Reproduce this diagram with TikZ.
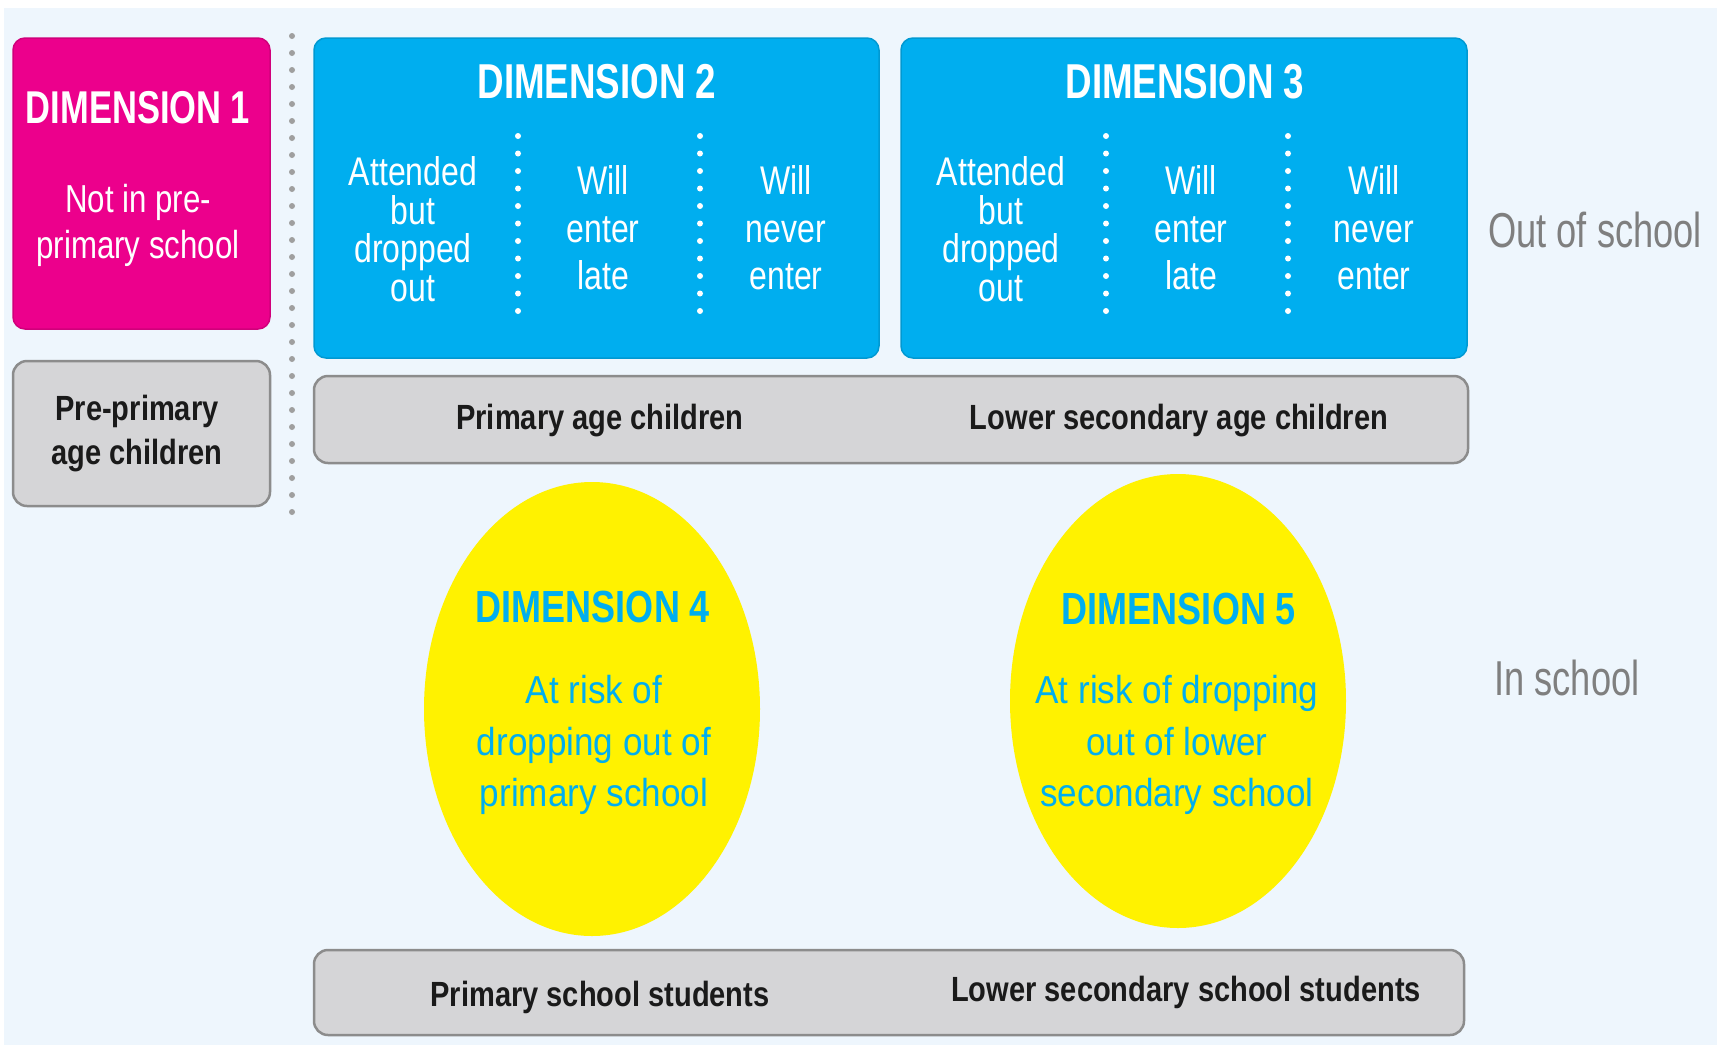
\documentclass[tikz,border=0pt]{standalone}
\usepackage{fontspec}
\setmainfont{Liberation Sans}
\newfontfamily\dimfont{Liberation Sans}[FakeStretch=0.75]
\newfontfamily\colfont{Liberation Sans}[FakeStretch=0.8]
\newfontfamily\barfont{Liberation Sans}[FakeStretch=0.83]
\newfontfamily\ovalfont{Liberation Sans}[FakeStretch=0.9]
\newfontfamily\sidefont{Liberation Sans}[FakeStretch=0.74]
\usepackage{tikz}
\usetikzlibrary{positioning}
\usetikzlibrary{shapes}
\definecolor{dimpink}{HTML}{EC008C}
\definecolor{dimblue}{HTML}{00AEEF}
\definecolor{dimyellow}{HTML}{FFF200}
\definecolor{bargrey}{HTML}{D5D5D7}
\definecolor{barline}{HTML}{8C8C8C}
\definecolor{paleblue}{HTML}{EEF6FD}
\definecolor{sidegrey}{HTML}{7F7F7F}
\definecolor{inkblack}{HTML}{1A1A1A}
\newcommand{\fsz}[2]{\fontsize{#1}{#2}\selectfont}
\tikzset{dim box/.style={rectangle,rounded corners=12pt,draw=#1!88!black,fill=#1,line width=1.5pt,inner sep=0pt},
  grey box/.style={rectangle,rounded corners=14pt,draw=barline,fill=bargrey,line width=2.5pt,inner sep=0pt},
  risk oval/.style={ellipse,fill=dimyellow,inner sep=0pt,minimum width=336pt,minimum height=454pt},
  title text/.style={font=\dimfont\bfseries\fsz{#1}{#1},text=white,inner sep=0pt},
  col text/.style={font=\colfont\fsz{40}{#1},text=white,align=center,inner sep=0pt},
  bar text/.style={font=\barfont\bfseries\fsz{35}{#1},text=inkblack,align=center,inner sep=0pt},
  bar text/.default=41,
  oval title/.style={font=\colfont\bfseries\fsz{45}{45},text=dimblue,inner sep=0pt},
  oval text/.style={font=\ovalfont\fsz{39}{51.5},text=dimblue,align=center,inner sep=0pt},
  side text/.style={font=\sidefont\fsz{49}{49},text=sidegrey,inner sep=0pt},
  grey dots/.style={draw=gray!75,line width=6pt,line cap=round,dash pattern=on 0pt off 17pt},
  white dots/.style={draw=white,line width=6pt,line cap=round,dash pattern=on 0pt off 17.5pt},}
\begin{document}
\begin{tikzpicture}[x=1pt,y=-1pt]
    \useasboundingbox (0,0) rectangle (1717,1045);
    \fill[paleblue] (4,8) rectangle (1717,1045);

    % boxes
    \node[dim box=dimpink, minimum width=257pt, minimum height=291pt] (dim1) at (141.5,183.5) {};
    \node[grey box, minimum width=257pt, minimum height=145pt] (prebox) at (141.5,433.5) {};
    \node[dim box=dimblue, minimum width=565pt, minimum height=320pt] (dim2) at (596.5,198) {};
    \node[dim box=dimblue, minimum width=566pt, minimum height=320pt] (dim3) at (1184,198) {};
    \node[grey box, minimum width=1154pt, minimum height=87pt] (agebar) at (891,419.5) {};
    \node[risk oval] (dim4) at (592,709) {};
    \node[risk oval] (dim5) at (1178,701) {};
    \node[grey box, minimum width=1150pt, minimum height=85pt] (schoolbar) at (889,992.5) {};

    % dotted separators
    \draw[grey dots] (292,36) -- (292,522);
    \foreach \x in {518,700,1106,1288}
        \draw[white dots] (\x,136) -- (\x,322);

    % dimension 1
    \node[title text=46] (t1) at (138,108) {DIMENSION 1};
    \node[col text=46, font=\colfont\fsz{39}{46}] (notpre) at (138,225) {Not in pre-\\primary school};
    \node[bar text=44] (preage) at (137,434) {Pre-primary\\age children};

    % dimension 2
    \node[title text=49] (t2) at (597,82) {DIMENSION 2};
    \node[col text=38.5] (drop2) at (413,229) {Attended\\but\\dropped\\out};
    \node[col text=47.5] (late2) at (603,228) {Will\\enter\\late};
    \node[col text=47.5] (never2) at (786,228) {Will\\never\\enter};

    % dimension 3
    \node[title text=49] (t3) at (1185,82) {DIMENSION 3};
    \node[col text=38.5] (drop3) at (1001,229) {Attended\\but\\dropped\\out};
    \node[col text=47.5] (late3) at (1191,228) {Will\\enter\\late};
    \node[col text=47.5] (never3) at (1374,228) {Will\\never\\enter};

    % age groups
    \node[bar text] (primage) at (600,421) {Primary age children};
    \node[bar text] (lowage) at (1179,421) {Lower secondary age children};

    % dimensions 4 and 5
    \node[oval title] (t4) at (593,607) {DIMENSION 4};
    \node[oval text] (risk4) at (594,745) {At risk of\\dropping out of\\primary school};
    \node[oval title] (t5) at (1179,609) {DIMENSION 5};
    \node[oval text] (risk5) at (1177,745) {At risk of dropping\\out of lower\\secondary school};

    % students
    \node[bar text] (primstud) at (600,997.5) {Primary school students};
    \node[bar text] (lowstud) at (1186,992.5) {Lower secondary school students};

    % side labels
    \node[side text] (outside) at (1595,229.5) {Out of school};
    \node[side text] (inside) at (1567,677.5) {In school};
\end{tikzpicture}
\end{document}
